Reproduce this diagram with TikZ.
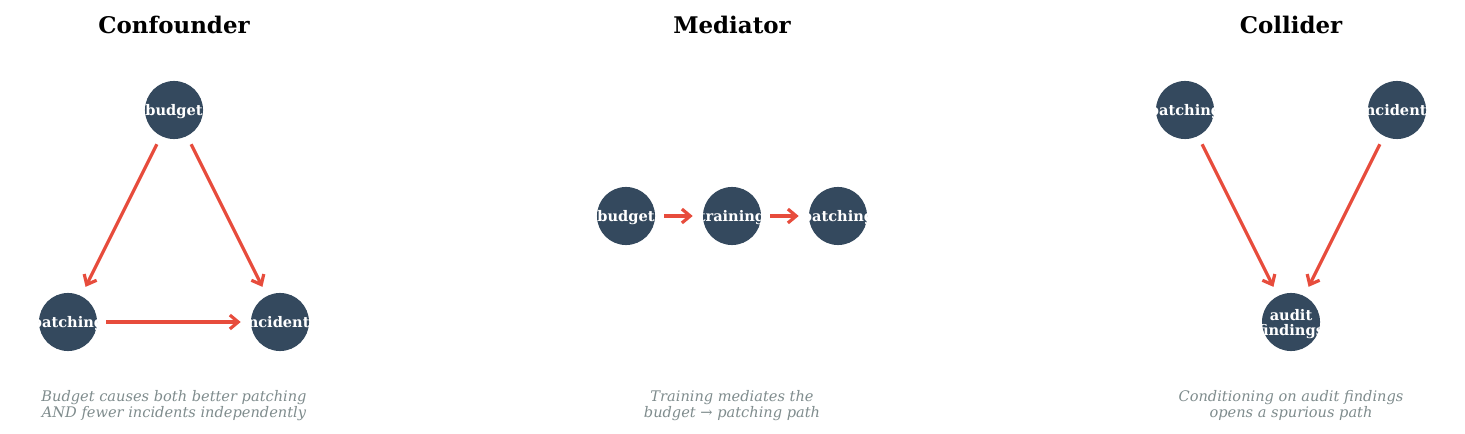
\documentclass[tikz,border=0pt]{standalone}
\usepackage{fontspec}
\setmainfont{DejaVu Serif}
\usetikzlibrary{arrows.meta}
\definecolor{nodeblue}{HTML}{34495E}
\definecolor{edgered}{HTML}{E74C3C}
\definecolor{notegray}{HTML}{7F8C8D}

\begin{document}
\begin{tikzpicture}[x=0.72pt,y=-0.72pt,
    var/.style={circle,fill=nodeblue,minimum size=41.8pt,inner sep=0pt},
    pairname/.style={text=white,inner sep=0pt,align=center,yshift=-1.3pt,font=\bfseries\fontsize{10.5}{10.8}\selectfont},
    varname/.style={pairname,text height=7.9pt,text depth=2.3pt},
    cause/.style={draw=edgered,line width=2.3pt,-{Straight Barb[length=6pt,width=10pt]},shorten <=6.5pt,shorten >=7.2pt},
    heading/.style={font=\bfseries\fontsize{16.5}{19}\selectfont},
    note/.style={text=notegray,align=center,font=\itshape\fontsize{10.5}{11.5}\selectfont}]
    \useasboundingbox (0,0) rectangle (1465,434);

    % Confounder: budget drives both others
    \begin{scope}
        \node[heading] (conf) at (174,25) {Confounder};
        \node[var] (cb) at (174,110) {};
        \node[varname] at (cb) {budget};
        \node[var] (cp) at (68,322) {};
        \node[varname] at (cp) {patching};
        \node[var] (ci) at (280,322) {};
        \node[varname] at (ci) {incidents};
        \draw[cause] (cb) -- (cp);
        \draw[cause] (cb) -- (ci);
        \draw[cause] (cp) -- (ci);
        \node[note] (confnote) at (174,405.5) {Budget causes both better patching\\AND fewer incidents independently};
    \end{scope}

    % Mediator: a chain of three
    \begin{scope}
        \node[heading] (med) at (732,25) {Mediator};
        \node[var] (mb) at (626,216) {};
        \node[varname] at (mb) {budget};
        \node[var] (mt) at (732,216) {};
        \node[varname] at (mt) {training};
        \node[var] (mp) at (838,216) {};
        \node[varname] at (mp) {patching};
        \draw[cause] (mb) -- (mt);
        \draw[cause] (mt) -- (mp);
        \node[note] (mednote) at (732,405.5) {Training mediates the\\budget \textrm{→} patching path};
    \end{scope}

    % Collider: two causes meet
    \begin{scope}
        \node[heading] (coll) at (1291,25) {Collider};
        \node[var] (kp) at (1185,110) {};
        \node[varname] at (kp) {patching};
        \node[var] (ki) at (1397,110) {};
        \node[varname] at (ki) {incidents};
        \node[var] (ka) at (1291,322) {};
        \node[pairname] at (ka) {audit\\findings};
        \draw[cause] (kp) -- (ka);
        \draw[cause] (ki) -- (ka);
        \node[note] (collnote) at (1291,405.5) {Conditioning on audit findings\\opens a spurious path};
    \end{scope}
\end{tikzpicture}
\end{document}
